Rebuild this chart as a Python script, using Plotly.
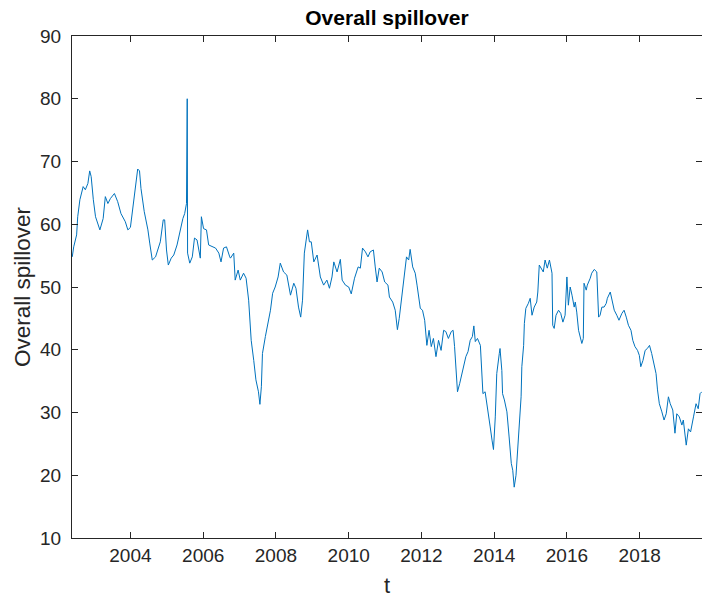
import pandas as pd
import plotly.graph_objects as go

# decimal year and overall spillover values
t_year = [
    2002.40, 2002.44, 2002.52, 2002.55, 2002.61, 2002.70, 2002.76, 2002.83, 2002.88, 2002.92,
    2002.98, 2003.04, 2003.16, 2003.25, 2003.31, 2003.38, 2003.45, 2003.56, 2003.65, 2003.74,
    2003.86, 2003.93, 2004.00, 2004.07, 2004.14, 2004.20, 2004.25, 2004.29, 2004.38, 2004.48,
    2004.53, 2004.60, 2004.69, 2004.75, 2004.82, 2004.90, 2004.94, 2004.99, 2005.04, 2005.12,
    2005.19, 2005.28, 2005.37, 2005.44, 2005.49, 2005.54, 2005.56, 2005.57, 2005.63, 2005.70,
    2005.76, 2005.83, 2005.92, 2005.95, 2006.01, 2006.09, 2006.15, 2006.24, 2006.34, 2006.43,
    2006.49, 2006.56, 2006.64, 2006.73, 2006.75, 2006.84, 2006.88, 2006.96, 2007.02, 2007.11,
    2007.18, 2007.25, 2007.32, 2007.39, 2007.45, 2007.52, 2007.56, 2007.60, 2007.63, 2007.71,
    2007.78, 2007.85, 2007.91, 2007.98, 2008.06, 2008.12, 2008.21, 2008.30, 2008.40, 2008.49,
    2008.55, 2008.62, 2008.68, 2008.73, 2008.78, 2008.84, 2008.87, 2008.92, 2008.97, 2009.04,
    2009.13, 2009.22, 2009.31, 2009.40, 2009.47, 2009.54, 2009.59, 2009.68, 2009.77, 2009.82,
    2009.91, 2010.00, 2010.07, 2010.16, 2010.26, 2010.32, 2010.38, 2010.46, 2010.53, 2010.59,
    2010.68, 2010.73, 2010.78, 2010.84, 2010.92, 2010.99, 2011.08, 2011.12, 2011.21, 2011.28,
    2011.34, 2011.39, 2011.46, 2011.54, 2011.59, 2011.65, 2011.69, 2011.76, 2011.83, 2011.88,
    2011.97, 2012.03, 2012.09, 2012.15, 2012.21, 2012.27, 2012.33, 2012.40, 2012.47, 2012.54,
    2012.61, 2012.67, 2012.74, 2012.82, 2012.87, 2012.91, 2012.96, 2012.99, 2013.05, 2013.11,
    2013.16, 2013.22, 2013.28, 2013.34, 2013.40, 2013.44, 2013.48, 2013.54, 2013.62, 2013.66,
    2013.69, 2013.75, 2013.83, 2013.89, 2013.94, 2013.98, 2014.03, 2014.07, 2014.14, 2014.16,
    2014.21, 2014.23, 2014.28, 2014.35, 2014.41, 2014.47, 2014.51, 2014.55, 2014.60, 2014.65,
    2014.70, 2014.74, 2014.76, 2014.81, 2014.83, 2014.87, 2014.94, 2014.99, 2015.04, 2015.10,
    2015.17, 2015.20, 2015.24, 2015.29, 2015.35, 2015.40, 2015.46, 2015.52, 2015.59, 2015.61,
    2015.65, 2015.70, 2015.77, 2015.83, 2015.89, 2015.95, 2016.00, 2016.04, 2016.09, 2016.14,
    2016.20, 2016.23, 2016.27, 2016.32, 2016.36, 2016.41, 2016.45, 2016.47, 2016.53, 2016.56,
    2016.64, 2016.68, 2016.75, 2016.82, 2016.87, 2016.91, 2016.96, 2017.02, 2017.08, 2017.11,
    2017.19, 2017.23, 2017.30, 2017.37, 2017.43, 2017.51, 2017.57, 2017.63, 2017.69, 2017.76,
    2017.81, 2017.87, 2017.94, 2017.99, 2018.03, 2018.09, 2018.15, 2018.21, 2018.27, 2018.33,
    2018.40, 2018.45, 2018.49, 2018.54, 2018.61, 2018.67, 2018.73, 2018.79, 2018.84, 2018.91,
    2018.97, 2019.02, 2019.09, 2019.16, 2019.20, 2019.28, 2019.34, 2019.40, 2019.48, 2019.55,
    2019.61, 2019.66, 2019.71,
]
spillover = [
    54.8, 56.4, 58.3, 61.2, 63.9, 66.0, 65.5, 66.5, 68.5, 67.6,
    63.9, 61.2, 59.1, 60.9, 64.4, 63.3, 64.1, 64.9, 63.6, 61.7,
    60.4, 59.1, 59.5, 62.8, 65.5, 68.8, 68.5, 65.7, 62.0, 59.1,
    57.0, 54.3, 54.8, 55.9, 57.2, 60.7, 60.7, 55.9, 53.5, 54.6,
    55.1, 56.7, 59.1, 60.9, 61.7, 63.3, 80.0, 55.4, 53.8, 54.8,
    57.8, 57.5, 54.6, 61.2, 59.3, 59.1, 56.7, 56.4, 56.2, 55.4,
    54.0, 56.2, 56.4, 54.8, 54.6, 55.4, 51.1, 52.7, 51.1, 52.2,
    51.4, 47.9, 41.5, 38.3, 35.2, 33.3, 31.3, 34.1, 39.4, 42.1,
    44.2, 46.3, 49.0, 50.0, 51.6, 53.8, 52.4, 51.9, 48.7, 50.6,
    49.8, 46.8, 45.2, 47.9, 55.4, 57.5, 59.1, 57.2, 57.2, 54.0,
    55.1, 51.6, 50.3, 51.1, 49.8, 51.6, 54.0, 52.4, 54.4, 51.1,
    50.3, 50.0, 48.9, 51.4, 53.2, 53.0, 56.2, 55.6, 54.8, 55.6,
    55.9, 53.2, 50.8, 53.0, 52.4, 50.8, 50.3, 48.4, 47.6, 46.3,
    43.2, 45.0, 48.2, 52.2, 54.8, 54.3, 56.0, 53.2, 52.2, 50.3,
    46.6, 46.3, 44.7, 40.7, 43.1, 40.5, 41.8, 38.9, 41.5, 39.9,
    43.1, 42.9, 41.8, 42.9, 43.1, 40.5, 36.2, 33.3, 34.6, 36.2,
    37.5, 38.9, 39.7, 41.5, 42.1, 43.8, 41.3, 41.8, 40.7, 37.3,
    33.0, 33.3, 30.4, 27.7, 25.6, 24.1, 29.3, 36.2, 39.4, 40.2,
    36.7, 33.0, 32.0, 30.1, 26.1, 21.9, 20.8, 18.1, 20.0, 24.5,
    28.2, 32.5, 37.3, 40.7, 44.2, 46.6, 47.4, 48.2, 45.5, 46.8,
    47.6, 49.2, 53.5, 53.0, 52.4, 54.3, 53.0, 54.3, 52.2, 43.9,
    43.4, 45.5, 46.3, 45.8, 44.4, 45.5, 51.6, 47.1, 50.0, 48.7,
    46.8, 47.6, 46.0, 43.1, 42.1, 41.0, 41.8, 50.6, 49.5, 50.3,
    51.4, 52.2, 52.8, 52.4, 45.2, 45.5, 46.8, 46.8, 47.4, 48.2,
    49.2, 47.9, 46.3, 45.5, 44.7, 45.8, 46.3, 45.2, 43.9, 43.1,
    41.5, 40.5, 39.9, 39.1, 37.3, 38.3, 39.9, 40.2, 40.7, 39.4,
    37.8, 36.2, 33.6, 31.4, 30.1, 28.8, 29.8, 32.5, 31.4, 30.4,
    26.7, 29.8, 29.3, 28.0, 28.8, 24.8, 27.4, 26.9, 29.3, 31.4,
    30.6, 33.0, 33.3,
]
tick_years = [2004, 2006, 2008, 2010, 2012, 2014, 2016, 2018]
y_ticks = [10, 20, 30, 40, 50, 60, 70, 80, 90]
x_limits = [2002.393, 2019.714]


def to_date(y):
    yi = int(y)
    start = pd.Timestamp(year=yi, month=1, day=1)
    days = (pd.Timestamp(year=yi + 1, month=1, day=1) - start).days
    return start + pd.Timedelta(days=(y - yi) * days)


dates = [to_date(v) for v in t_year]

AX = "#262626"
fig = go.Figure(
    go.Scatter(x=dates, y=spillover, mode="lines",
               line=dict(color="#0072BD", width=1), showlegend=False)
)
fig.update_layout(
    width=702, height=601,
    margin=dict(l=72, r=0, t=36, b=63),
    paper_bgcolor="white", plot_bgcolor="white",
    font=dict(family="Liberation Sans, Arial", color=AX),
    title=dict(text="<b>Overall spillover</b>", x=0.5, xanchor="center",
               xref="paper", y=0.97, yanchor="middle",
               font=dict(size=21, color="black")),
)
fig.update_xaxes(
    range=[to_date(x_limits[0]), to_date(x_limits[1])],
    tickmode="array",
    tickvals=[pd.Timestamp(year=y, month=1, day=1) for y in tick_years],
    ticktext=[str(y) for y in tick_years],
    ticks="inside", ticklen=6, tickcolor=AX, tickwidth=1,
    showline=True, linecolor=AX, linewidth=1, mirror="ticks",
    showgrid=False, zeroline=False,
    tickfont=dict(size=19, color=AX),
    title=dict(text="t", font=dict(size=22, color=AX), standoff=12),
)
fig.update_yaxes(
    range=[10, 90], tickmode="array", tickvals=y_ticks,
    ticktext=[str(v) for v in y_ticks],
    ticks="inside", ticklen=6, tickcolor=AX, tickwidth=1,
    showline=True, linecolor=AX, linewidth=1, mirror="ticks",
    showgrid=False, zeroline=False,
    tickfont=dict(size=19, color=AX),
    ticklabelstandoff=6,
    title=dict(text="Overall spillover", font=dict(size=22.5, color=AX), standoff=3),
)
fig.write_html(
    "out.html",
    config={"displayModeBar": False},
    post_script="document.body.style.margin='0';document.body.style.overflow='hidden';",
)
